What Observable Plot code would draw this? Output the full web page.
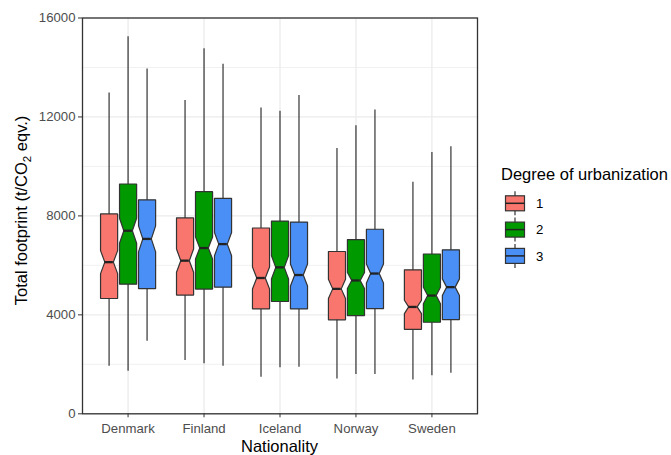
<!DOCTYPE html>
<html><head><meta charset="utf-8">
<script src="https://cdn.jsdelivr.net/npm/d3@7"></script>
<script src="https://cdn.jsdelivr.net/npm/@observablehq/plot@0.6"></script>
<style>
body{margin:0;background:#fff;}
#chart svg{font-family:"Liberation Sans",Arial,sans-serif;}
</style></head><body><div id="chart"></div>
<script>
const countries = ["Denmark","Finland","Iceland","Norway","Sweden"];
const degrees = ["1","2","3"];
const colors = ["#F8766D","#009A00","#4A8FF5"];
// rows: countries; columns: degree 1,2,3
const whiskerHigh = [[12970,15240,13940],[12660,14760,14130],[12360,12230,12870],[10720,11640,12280],[9360,10560,10800]];
const q3 =          [[8080,9290,8650],[7920,8980,8710],[7510,7790,7750],[6560,7040,7460],[5820,6460,6630]];
const median =      [[6130,7400,7070],[6190,6700,6860],[5490,5920,5610],[5050,5390,5670],[4320,4780,5120]];
const q1 =          [[4660,5240,5060],[4800,5040,5120],[4240,4540,4240],[3800,3970,4250],[3410,3700,3810]];
const whiskerLow =  [[1920,1720,2930],[2150,2020,1920],[1480,1860,1880],[1410,1590,1590],[1370,1540,1640]];
const notchHalf =   [[465,505,525],[470,445,470],[445,470,445],[385,325,385],[270,335,335]];
const yTicks = [0,4000,8000,12000,16000];
const yMinorTicks = [2000,6000,10000,14000];
const xTitle = "Nationality";
const legendTitle = "Degree of urbanization";

const dodge = 0.25, half = 0.1125, indent = half * 0.5;
const boxes = [];
countries.forEach((c, ci) => degrees.forEach((g, di) => {
  const x = ci + (di - 1) * dodge;
  boxes.push({country: c, degree: g, di, x, x1: x - half, x2: x + half,
    hi: whiskerHigh[ci][di], q3: q3[ci][di], med: median[ci][di], q1: q1[ci][di], lo: whiskerLow[ci][di],
    nu: median[ci][di] + notchHalf[ci][di], nl: median[ci][di] - notchHalf[ci][di]});
}));
const poly = [];
boxes.forEach((b, i) => {
  const pts = [[b.x1,b.q3],[b.x1,b.nu],[b.x1+indent,b.med],[b.x1,b.nl],[b.x1,b.q1],[b.x2,b.q1],[b.x2,b.nl],[b.x2-indent,b.med],[b.x2,b.nu],[b.x2,b.q3],[b.x1,b.q3]];
  pts.forEach(([x,y]) => poly.push({id: i, di: b.di, x, y}));
});

const ink = "#333333";
const plot = Plot.plot({
  width: 671, height: 455,
  marginLeft: 82, marginRight: 194, marginTop: 17.5, marginBottom: 41.7,
  x: {domain: [-0.6, 4.6], axis: null},
  y: {domain: [0, 16000], axis: null},
  marks: [
    Plot.ruleY(yMinorTicks, {stroke: "#ebebeb", strokeWidth: 0.7}),
    Plot.ruleY(yTicks, {stroke: "#ebebeb", strokeWidth: 1.3}),
    Plot.ruleX(d3.range(countries.length), {stroke: "#ebebeb", strokeWidth: 1.3}),
    Plot.ruleX(boxes, {x: "x", y1: "lo", y2: "hi", stroke: ink, strokeWidth: 1.2}),
    ...degrees.map((g, di) => Plot.line(poly.filter(p => p.di === di), {x: "x", y: "y", z: "id", fill: colors[di], stroke: ink, strokeWidth: 1.2, strokeLinejoin: "miter"})),
    Plot.ruleY(boxes, {y: "med", x1: d => d.x1 + indent, x2: d => d.x2 - indent, stroke: "#222", strokeWidth: 2.3}),
    Plot.frame({stroke: ink, strokeWidth: 1.3}),
    Plot.axisY({ticks: yTicks, tickFormat: d => `${d}`, tickSize: 4, tickPadding: 3, fontSize: 13.2, fill: "#4d4d4d", stroke: ink, label: null}),
    Plot.axisX({ticks: d3.range(countries.length), tickFormat: i => countries[i], tickSize: 4, tickPadding: 6, fontSize: 13.2, fill: "#4d4d4d", stroke: ink, label: null})
  ]
});
document.getElementById("chart").append(plot);

const svg = d3.select(plot);
// axis titles
svg.append("text").attr("x", 279.5).attr("y", 451.5).attr("text-anchor", "middle")
  .attr("font-size", 16.5).attr("fill", "#000").text(xTitle);
const yt = svg.append("text").attr("transform", "translate(27,210.5) rotate(-90)").attr("text-anchor", "middle")
  .attr("font-size", 16.5).attr("fill", "#000");
yt.append("tspan").text("Total footprint (t/CO");
yt.append("tspan").attr("font-size", 11.5).attr("dy", 4).text("2");
yt.append("tspan").attr("dy", -4).text(" eqv.)");

// legend
const lg = svg.append("g").attr("text-anchor", "start");
lg.append("text").attr("x", 501).attr("y", 180).attr("text-anchor", "start").attr("font-size", 16.5).attr("fill", "#000").text(legendTitle);
degrees.forEach((g, i) => {
  const cy = 203.3 + i * 26.3;
  const k = lg.append("g");
  k.append("line").attr("x1", 515).attr("x2", 515).attr("y1", cy - 12).attr("y2", cy + 12).attr("stroke", ink).attr("stroke-width", 1.2);
  k.append("rect").attr("x", 505.5).attr("y", cy - 7.5).attr("width", 19).attr("height", 15).attr("fill", colors[i]).attr("stroke", ink).attr("stroke-width", 1.2);
  k.append("line").attr("x1", 505.5).attr("x2", 524.5).attr("y1", cy).attr("y2", cy).attr("stroke", "#222").attr("stroke-width", 1.5);
  k.append("text").attr("x", 536).attr("y", cy + 4.7).attr("text-anchor", "start").attr("font-size", 13.2).attr("fill", "#000").text(g);
});
</script></body></html>
